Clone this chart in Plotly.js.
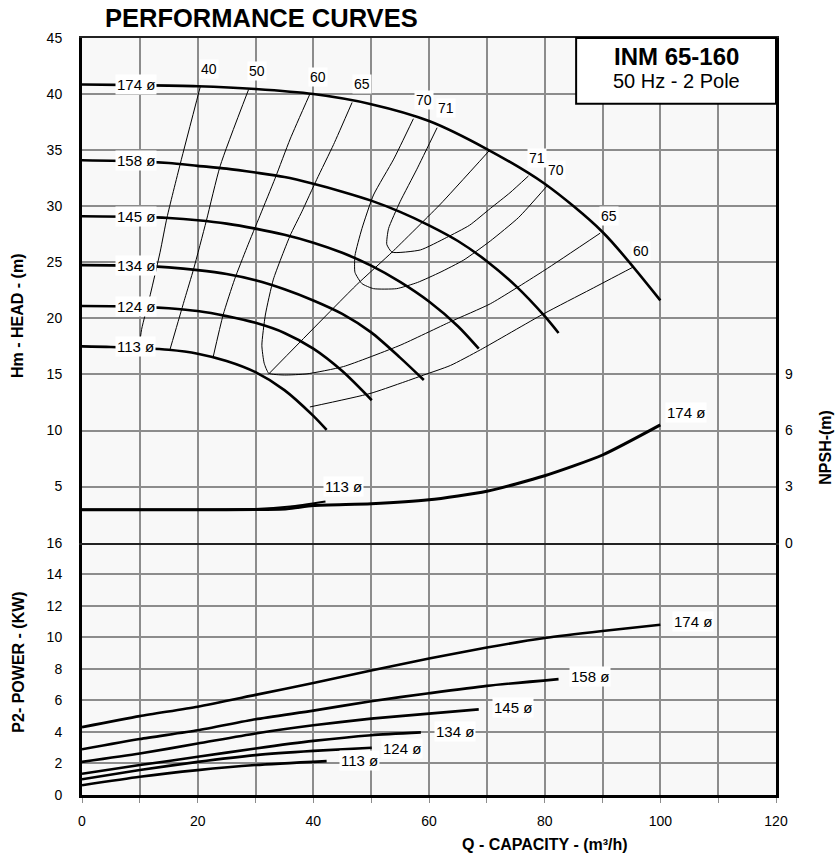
<!DOCTYPE html>
<html><head><meta charset="utf-8">
<script src="https://cdn.plot.ly/plotly-3.0.1.min.js"></script>
<style>html,body{margin:0;padding:0;background:#fff}#chart{width:835px;height:857px}</style>
</head><body><div id="chart"></div>
<script>
// ---- Head curves (Q m3/h, H m) per impeller diameter ----
const diameters = ['174', '158', '145', '134', '124', '113'];
const Q174 = [0, 10, 20, 30, 40, 50, 60, 70, 80, 90, 100];
const H174 = [40.85, 40.8, 40.7, 40.45, 40.0, 39.1, 37.6, 35.1, 32.0, 27.7, 21.6];
const Q158 = [0, 10, 15, 20, 25, 30, 35, 40, 45, 50, 55, 60, 65, 70, 75, 80, 82.4];
const H158 = [34.1, 34.0, 33.85, 33.6, 33.35, 33.0, 32.6, 32.0, 31.3, 30.5, 29.5, 28.3, 26.9, 25.1, 22.9, 20.2, 18.7];
const Q145 = [0, 10, 15, 20, 25, 30, 35, 40, 45, 50, 55, 60, 65, 68.6];
const H145 = [29.1, 29.05, 28.95, 28.75, 28.45, 28.0, 27.45, 26.75, 25.85, 24.7, 23.25, 21.5, 19.3, 17.3];
const Q134 = [0, 10, 15, 20, 25, 30, 35, 40, 45, 50, 55, 59.1];
const H134 = [24.75, 24.7, 24.55, 24.3, 23.95, 23.4, 22.6, 21.6, 20.4, 18.75, 16.5, 14.5];
const Q124 = [0, 10, 15, 20, 25, 30, 35, 40, 45, 50.1];
const H124 = [21.1, 21.05, 20.9, 20.65, 20.2, 19.6, 18.7, 17.3, 15.3, 12.7];
const Q113 = [0, 5, 10, 15, 20, 25, 30, 35, 40, 42.3];
const H113 = [17.5, 17.45, 17.35, 17.2, 16.85, 16.2, 15.2, 13.6, 11.3, 10.05];

// ---- Iso-efficiency lines (%) ----
const E40Q = [20.5, 17, 14.7, 13.5, 11.8, 10.3, 9.9];
const E40H = [40.75, 33.8, 29.0, 25.9, 22.1, 19.0, 17.4];
const E50Q = [28.8, 23.9, 21.5, 19.3, 17.8, 16.5, 15.2];
const E50H = [40.4, 33.6, 28.7, 24.4, 21.8, 19.5, 17.2];
const E60LQ = [39.4, 36, 33.4, 30.8, 28.5, 26.4, 24.4, 22.7];
const E60LH = [40.0, 36.0, 32.5, 29.2, 26.3, 23.5, 20.3, 16.6];
const E60RQ = [39.4, 49.8, 55, 59.1, 63.7, 68.9, 79.8, 88, 95.4];
const E60RH = [12.1, 13.3, 14.2, 14.95, 15.8, 17.2, 20.4, 22.6, 24.6];
const E65Q = [46.7, 43.5, 40.6, 38, 36, 33.1, 31.7, 31.1, 31.5, 32.3, 35, 38.9, 45.2, 55, 63.7, 70.6, 80, 89.6];
const E65H = [39.25, 35.5, 32.4, 29.5, 27.4, 23.5, 20.3, 17.6, 16.0, 15.1, 14.95, 15.05, 15.7, 17.6, 19.7, 21.3, 24.3, 27.6];
const E70Q = [57.3, 53.9, 50.4, 48.4, 47.2, 47.2, 48.4, 50.4, 54.4, 58, 61.9, 66, 70.6, 75.5, 80.4];
const E70H = [37.8, 34.2, 31.0, 28.0, 25.6, 24.1, 23.1, 22.65, 22.65, 23.2, 24.1, 25.2, 26.9, 29.0, 31.8];
const E71Q = [61.4, 57.9, 55, 53, 52.7, 53.6, 58.5, 63, 67, 70.6, 74, 77.2];
const E71H = [37.0, 33.3, 30.4, 28.0, 26.6, 25.9, 26.1, 27.2, 28.3, 29.8, 31.2, 32.7];
const BEPQ = [32.2, 47.5, 53.6, 62, 70.5];
const BEPH = [15.0, 23.0, 25.9, 30.2, 35.0];
const effLabels = ['40', '50', '60', '65', '70', '71', '71', '70', '65', '60'];
const effLabelQ = [22, 30.3, 40.8, 48.4, 59.2, 63, 78.7, 82, 91.2, 96.7];
const effLabelH = [42.2, 42.1, 41.5, 40.9, 39.5, 38.8, 34.3, 33.2, 29.1, 26.0];

// ---- NPSH required (m) ----
const NQ174 = [0, 10, 20, 30, 35.5, 40, 50, 60, 70, 80, 90, 100];
const N174 = [1.76, 1.76, 1.76, 1.77, 1.82, 1.99, 2.08, 2.29, 2.75, 3.58, 4.69, 6.3];
const NQ113 = [0, 20, 30, 36, 42.1];
const N113 = [1.78, 1.78, 1.8, 1.93, 2.2];

// ---- Power P2 (kW) ----
const PQ174 = [0, 10, 20, 30, 40, 50, 60, 70, 80, 90, 100];
const P174 = [4.3, 5.0, 5.6, 6.35, 7.1, 7.9, 8.65, 9.35, 9.95, 10.4, 10.8];
const PQ158 = [0, 10, 20, 30, 40, 50, 60, 70, 82.4];
const P158 = [2.9, 3.55, 4.1, 4.8, 5.35, 5.95, 6.45, 6.92, 7.35];
const PQ145 = [0, 10, 20, 30, 40, 50, 60, 68.6];
const P145 = [2.1, 2.63, 3.26, 3.9, 4.42, 4.84, 5.16, 5.43];
const PQ134 = [0, 10, 20, 30, 40, 50, 58.6];
const P134 = [1.35, 1.9, 2.42, 2.95, 3.43, 3.79, 3.97];
const PQ124 = [0, 10, 20, 30, 40, 50.1];
const P124 = [1.0, 1.58, 2.1, 2.53, 2.8, 3.0];
const PQ113 = [0, 10, 20, 30, 42.3];
const P113 = [0.62, 1.16, 1.58, 1.9, 2.15];

// ---- Label positions ----
const headLabelQ = [9.3, 9.3, 9.3, 9.3, 9.3, 9.3];
const headLabelH = [40.85, 34.05, 29.05, 24.7, 21.1, 17.5];
const powLabelQ = [105.7, 87.9, 74.6, 64.5, 55.4, 47.9];
const powLabelP = [11.0, 7.49, 5.53, 4.0, 2.94, 2.19];
const npshLabels = ['174', '113'];
const npshLabelQ = [104.5, 45.2];
const npshLabelN = [6.95, 3.0];

// tick labels
const xTickVals = [0, 10, 20, 30, 40, 50, 60, 70, 80, 90, 100, 110, 120];
const xTickText = ['0', '', '20', '', '40', '', '60', '', '80', '', '100', '', '120'];
const headTicks = [5, 10, 15, 20, 25, 30, 35, 40, 45];
const powerTicks = [0, 2, 4, 6, 8, 10, 12, 14, 16];
const npshTicks = [0, 3, 6, 9];

const FONT = 'Arial, "Liberation Sans", sans-serif';
const traces = [];
function line(x, y, xa, ya, w, smooth) {
  traces.push({x: x, y: y, xaxis: xa, yaxis: ya, type: 'scatter', mode: 'lines',
    line: {color: '#000', width: w, shape: 'spline', smoothing: smooth},
    hoverinfo: 'skip', showlegend: false});
}
const headQ = [Q174, Q158, Q145, Q134, Q124, Q113];
const headH = [H174, H158, H145, H134, H124, H113];
for (let i = 0; i < headQ.length; i++) line(headQ[i], headH[i], 'x2', 'y2', 2.6, 0.8);
line(E40Q, E40H, 'x2', 'y2', 1, 0.6);
line(E50Q, E50H, 'x2', 'y2', 1, 0.6);
line(E60LQ, E60LH, 'x2', 'y2', 1, 0.6);
line(E60RQ, E60RH, 'x2', 'y2', 1, 0.6);
line(E65Q, E65H, 'x2', 'y2', 1, 0.5);
line(E70Q, E70H, 'x2', 'y2', 1, 0.5);
line(E71Q, E71H, 'x2', 'y2', 1, 0.5);
line(BEPQ, BEPH, 'x2', 'y2', 1, 0.4);
line(NQ174, N174, 'x2', 'y3', 3, 0.6);
line(NQ113, N113, 'x2', 'y3', 2, 0.6);
const powQ = [PQ174, PQ158, PQ145, PQ134, PQ124, PQ113];
const powP = [P174, P158, P145, P134, P124, P113];
for (let i = 0; i < powQ.length; i++) line(powQ[i], powP[i], 'x', 'y', 2.6, 0.6);

const ann = [];
function lab(text, x, y, xref, yref, size) {
  ann.push({text: text, x: x, y: y, xref: xref, yref: yref, showarrow: false,
    xanchor: 'center', yanchor: 'middle',
    bgcolor: '#ffffff', borderpad: 1, font: {family: FONT, size: size, color: '#000'}});
}
for (let i = 0; i < diameters.length; i++) {
  lab(diameters[i] + ' ø', headLabelQ[i], headLabelH[i], 'x2', 'y2', 15);
  lab(diameters[i] + ' ø', powLabelQ[i], powLabelP[i], 'x', 'y', 15);
}
for (let i = 0; i < npshLabels.length; i++) lab(npshLabels[i] + ' ø', npshLabelQ[i], npshLabelN[i], 'x2', 'y3', 15);
for (let i = 0; i < effLabels.length; i++) lab(effLabels[i], effLabelQ[i], effLabelH[i], 'x2', 'y2', 14);

function txt(text, x, y, size, opts) {
  ann.push(Object.assign({text: text, x: x, y: y, xref: 'paper', yref: 'paper', showarrow: false,
    xanchor: 'center', yanchor: 'middle',
    font: {family: FONT, size: size, color: '#000'}}, opts || {}));
}
txt('<b>PERFORMANCE CURVES</b>', 0.0303, 1.0264, 25.5, {xanchor: 'left'});
txt('<b>INM 65-160</b>', 0.856, 0.976, 24);
txt('50 Hz - 2 Pole', 0.856, 0.943, 20);
txt('<b>Hm - HEAD - (m)</b>', -0.092, 0.633, 16, {textangle: -90});
txt('<b>P2- POWER - (KW)</b>', -0.092, 0.175, 16, {textangle: -90});
txt('<b>NPSH-(m)</b>', 1.072, 0.46, 16, {textangle: -90});
txt('<b>Q - CAPACITY - (m³/h)</b>', 0.667, -0.066, 16);

const gridC = '#8c8c8c';
const GW = 2;
const tickFont = {family: FONT, size: 14, color: '#000'};
const layout = {
  width: 835, height: 857,
  margin: {l: 82, r: 59, t: 38, b: 62, pad: 0},
  paper_bgcolor: '#ffffff', plot_bgcolor: '#f8f8f8',
  showlegend: false,
  font: {family: FONT, color: '#000'},
  xaxis: {domain: [0, 1], range: [0, 120], anchor: 'y', tickmode: 'array', tickvals: xTickVals, ticktext: xTickText,
    ticks: 'outside', ticklen: 5, tickcolor: gridC, tickwidth: 1, ticklabelstandoff: 6,
    showgrid: true, gridcolor: gridC, gridwidth: GW, zeroline: false,
    showline: true, linecolor: '#000', linewidth: 3, tickfont: tickFont},
  xaxis2: {domain: [0, 1], range: [0, 120], anchor: 'y2', tickmode: 'array', tickvals: xTickVals,
    showticklabels: false, ticks: '', showgrid: true, gridcolor: gridC, gridwidth: GW, zeroline: false,
    showline: true, linecolor: '#222', linewidth: 2, mirror: true},
  yaxis: {domain: [0, 1 / 3], range: [0, 16], anchor: 'x', tickmode: 'array', tickvals: powerTicks,
    ticks: '', ticklabelstandoff: 14, showgrid: true, gridcolor: gridC, gridwidth: GW, zeroline: false,
    showline: true, linecolor: '#000', linewidth: 3, mirror: true, tickfont: tickFont},
  yaxis2: {domain: [1 / 3, 1], range: [0, 45], anchor: 'x2', tickmode: 'array', tickvals: headTicks,
    ticks: '', ticklabelstandoff: 14, showgrid: true, gridcolor: gridC, gridwidth: GW, zeroline: false,
    showline: true, linecolor: '#000', linewidth: 3, mirror: true, tickfont: tickFont},
  yaxis3: {overlaying: 'y2', side: 'right', anchor: 'x2', range: [0, 27], tickmode: 'array', tickvals: npshTicks,
    ticks: '', ticklabelstandoff: 8, showgrid: false, zeroline: false, showline: false, tickfont: tickFont},
  shapes: [{type: 'rect', xref: 'paper', yref: 'paper', x0: 0.712, x1: 1, y0: 0.9132, y1: 1,
    fillcolor: '#ffffff', line: {color: '#000', width: 2}, layer: 'above'}],
  annotations: ann
};
Plotly.newPlot('chart', traces, layout, {displayModeBar: false, staticPlot: true});
</script></body></html>
